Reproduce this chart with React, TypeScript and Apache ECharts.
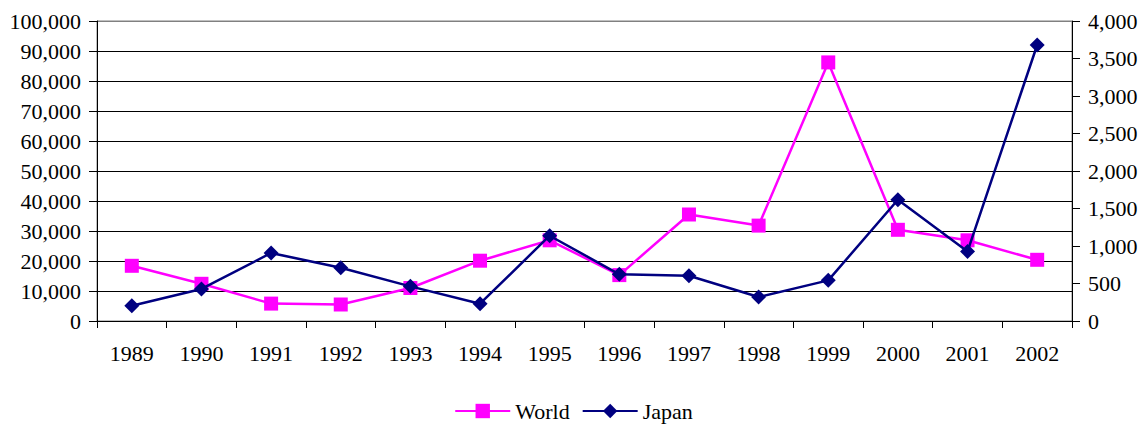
import React, { useEffect, useRef } from "react";
import * as echarts from "echarts";

const years = ["1989","1990","1991","1992","1993","1994","1995","1996","1997","1998","1999","2000","2001","2002"];
const worldValues = [18400, 12400, 5800, 5500, 11000, 20100, 26900, 15300, 35500, 31800, 86200, 30400, 26900, 20400];
const japanValues = [204, 427, 907, 711, 462, 231, 1137, 622, 604, 320, 542, 1617, 928, 3680];

const FONT = "Times New Roman, Liberation Serif, serif";
const fmt = (v: number) => v.toLocaleString("en-US");

export default function App() {
  const ref = useRef<HTMLDivElement>(null);
  useEffect(() => {
    if (!ref.current) return;
    const chart = echarts.init(ref.current, null, { renderer: "svg" });
    const gridColors = ["#000", "#000", "#000", "#000", "#000", "#000", "#000", "#000", "#000", "#000", "#808080"];
    chart.setOption({
      animation: false,
      backgroundColor: "#fff",
      textStyle: { fontFamily: FONT, color: "#000" },
      grid: {
        left: 97, right: 75, top: 21, bottom: 106,
        show: true, borderColor: "#808080", borderWidth: 1, backgroundColor: "transparent",
      },
      legend: {
        top: 398,
        left: "center",
        padding: 0,
        itemWidth: 55,
        itemHeight: 18,
        itemGap: 12,
        textStyle: { fontFamily: FONT, fontSize: 22, color: "#000", lineHeight: 26 },
        data: ["World", "Japan"],
      },
      xAxis: {
        type: "category",
        data: years,
        boundaryGap: true,
        axisLine: { lineStyle: { color: "#000", width: 1 } },
        axisTick: { show: true, length: 7, lineStyle: { color: "#000" } },
        axisLabel: { fontFamily: FONT, fontSize: 22, color: "#000", margin: 21 },
      },
      yAxis: [
        {
          type: "value",
          min: 0, max: 100000, interval: 10000,
          position: "left",
          axisLine: { show: true, lineStyle: { color: "#000", width: 1 } },
          axisTick: { show: true, length: 8, lineStyle: { color: "#000" } },
          axisLabel: { fontFamily: FONT, fontSize: 22, color: "#000", margin: 16, formatter: fmt },
          splitLine: { show: true, lineStyle: { color: gridColors, width: 1 } },
        },
        {
          type: "value",
          min: 0, max: 4000, interval: 500,
          position: "right",
          axisLine: { show: true, lineStyle: { color: "#000", width: 1 } },
          axisTick: { show: true, length: 8, lineStyle: { color: "#000" } },
          axisLabel: { fontFamily: FONT, fontSize: 22, color: "#000", margin: 16, formatter: fmt },
          splitLine: { show: false },
        },
      ],
      series: [
        {
          name: "World",
          type: "line",
          yAxisIndex: 0,
          data: worldValues,
          symbol: "rect",
          symbolSize: 14,
          lineStyle: { color: "#FF00FF", width: 2.5 },
          itemStyle: { color: "#FF00FF" },
          z: 2,
        },
        {
          name: "Japan",
          type: "line",
          yAxisIndex: 1,
          data: japanValues,
          symbol: "diamond",
          symbolSize: 15,
          lineStyle: { color: "#000080", width: 2.5 },
          itemStyle: { color: "#000080" },
          z: 3,
        },
      ],
    });
    return () => chart.dispose();
  }, []);
  return <div ref={ref} style={{ position: "absolute", left: 0, top: 0, width: 1147, height: 427 }} />;
}
